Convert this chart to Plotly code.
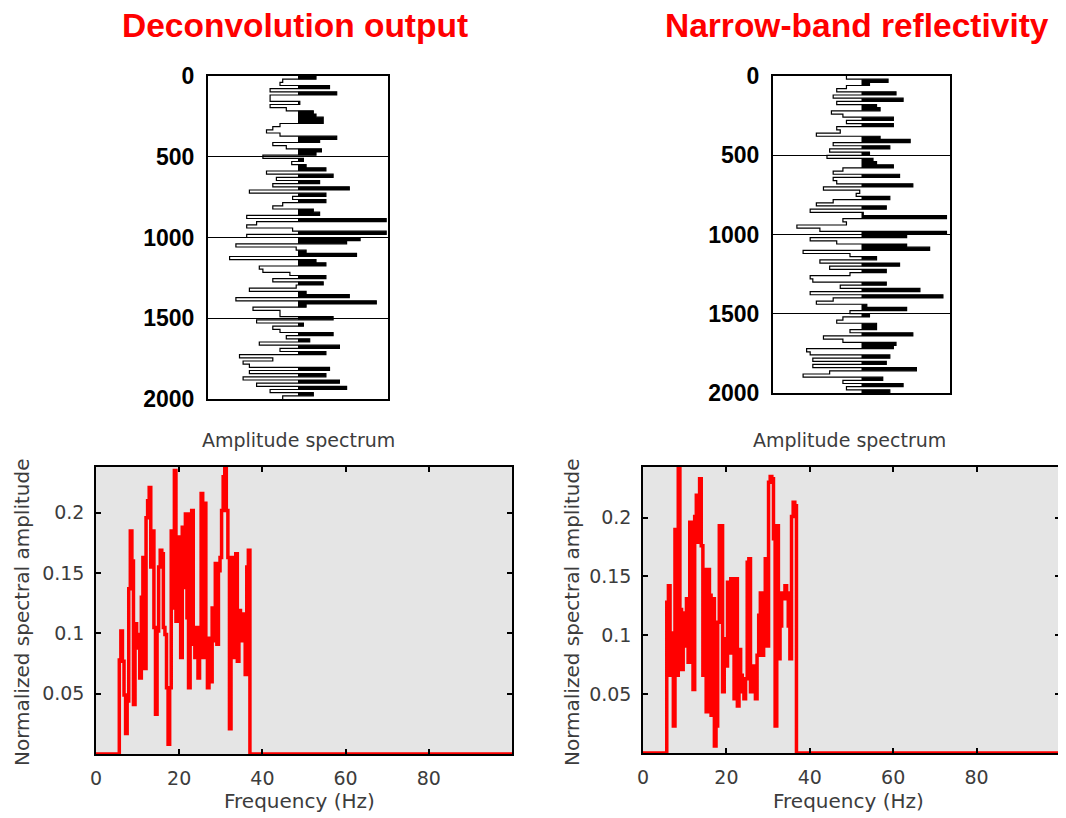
import numpy as np
import plotly.graph_objects as go

# ---------------- data ----------------
depth_max = 2000
depth_ticks = [0, 500, 1000, 1500, 2000]

decon_trace = [0.20, -0.17, -0.20, 0.35, -0.31, 0.43, -0.31, -0.31, 0.02, -0.31,
               -0.13, 0.17, 0.20, 0.28, 0.28, -0.20, -0.28, -0.35, -0.20, 0.43,
               0.24, -0.28, -0.13, 0.26, 0.20, -0.39, 0.06, -0.07, 0.09, 0.31,
               -0.35, 0.39, -0.24, 0.24, -0.28, 0.57, -0.54, 0.31, -0.06, 0.31,
               -0.17, -0.28, 0.17, 0.24, -0.57, 0.98, -0.46, -0.57, -0.06, 0.98,
               -0.57, 0.69, 0.54, -0.69, -0.02, 0.09, 0.65, -0.76, 0.20, 0.31,
               -0.43, -0.39, -0.09, 0.31, -0.28, 0.28, -0.02, -0.54, 0.09, 0.57,
               -0.69, 0.87, 0.09, -0.50, -0.20, -0.20, 0.39, -0.46, 0.06, -0.28,
               -0.20, 0.39, -0.13, 0.13, -0.43, 0.46, -0.20, 0.31, -0.65, -0.28,
               -0.61, -0.54, 0.35, -0.54, 0.31, -0.61, 0.46, -0.46, 0.54, -0.31,
               0.17, -0.17]

narrow_trace = [-0.17, 0.30, 0.09, -0.17, -0.28, 0.39, -0.32, 0.47, -0.28, 0.17,
                0.21, -0.34, -0.21, 0.36, -0.17, 0.36, -0.28, -0.24, -0.51, 0.21,
                0.55, -0.32, 0.32, -0.36, 0.09, -0.39, 0.13, 0.17, 0.36, -0.21,
                -0.32, 0.43, -0.32, -0.28, 0.58, -0.43, -0.02, -0.06, 0.32, -0.32,
                -0.51, 0.28, -0.58, 0.02, 0.96, -0.21, -0.17, -0.73, -0.47, 0.96,
                0.51, -0.58, -0.28, 0.51, 0.77, -0.66, -0.13, 0.17, -0.47, 0.43,
                -0.36, 0.28, -0.13, -0.58, -0.55, 0.28, -0.24, 0.66, -0.58, 0.92,
                -0.32, -0.51, 0.06, 0.51, -0.13, 0.09, -0.21, -0.28, 0.17, 0.17,
                -0.13, 0.58, -0.43, -0.21, 0.39, 0.36, -0.62, -0.58, 0.32, -0.55,
                0.28, -0.55, 0.62, -0.36, -0.66, 0.24, -0.21, 0.47, -0.17, 0.32]

freq_max = 100
freq_ticks = [0, 20, 40, 60, 80]
amp_ticks = [0.05, 0.1, 0.15, 0.2]
amp_labels = ["0.05", "0.1", "0.15", "0.2"]

decon_f0, decon_f1 = 5.6, 37.0
decon_spec = [0.078, 0.102, 0.077, 0.049, 0.017, 0.044, 0.137, 0.185, 0.160, 0.041,
              0.108, 0.099, 0.088, 0.063, 0.130, 0.163, 0.071, 0.196, 0.210, 0.221,
              0.155, 0.185, 0.105, 0.033, 0.102, 0.155, 0.169, 0.166, 0.105, 0.099,
              0.055, 0.008, 0.055, 0.185, 0.121, 0.235, 0.110, 0.180, 0.158, 0.080,
              0.188, 0.138, 0.199, 0.113, 0.055, 0.199, 0.202, 0.091, 0.080, 0.105,
              0.063, 0.094, 0.216, 0.080, 0.208, 0.080, 0.055, 0.096, 0.060, 0.121,
              0.094, 0.158, 0.091, 0.152, 0.163, 0.202, 0.230, 0.239, 0.202, 0.163,
              0.021, 0.105, 0.163, 0.080, 0.166, 0.077, 0.119, 0.094, 0.116, 0.094,
              0.066, 0.155, 0.169, 0.021]

narrow_f0, narrow_f1 = 5.7, 36.8
narrow_spec = [0.128, 0.142, 0.066, 0.102, 0.023, 0.190, 0.066, 0.244, 0.122, 0.071,
               0.119, 0.091, 0.131, 0.077, 0.196, 0.182, 0.054, 0.201, 0.219, 0.179,
               0.233, 0.176, 0.066, 0.156, 0.035, 0.156, 0.134, 0.032, 0.131, 0.006,
               0.023, 0.111, 0.193, 0.193, 0.052, 0.097, 0.074, 0.145, 0.085, 0.148,
               0.091, 0.046, 0.148, 0.040, 0.088, 0.066, 0.052, 0.046, 0.063, 0.162,
               0.165, 0.052, 0.074, 0.054, 0.046, 0.083, 0.117, 0.136, 0.083, 0.131,
               0.165, 0.091, 0.230, 0.235, 0.233, 0.182, 0.023, 0.193, 0.080, 0.108,
               0.136, 0.131, 0.142, 0.136, 0.108, 0.080, 0.201, 0.213, 0.210, 0.108]

# ---------------- layout helpers ----------------
OFF = 8  # default page margin of the browser body
WIN_W, WIN_H = 1066, 818
W, H = WIN_W - OFF, WIN_H - OFF
FONT_B = "Liberation Sans, Arial, sans-serif"
FONT_R = "DejaVu Sans, Verdana, sans-serif"
GREY_TXT = "#3c3c3c"


def xd(a, b):
    return [(a - OFF) / W, (b - OFF) / W]


def yd(top, bot):
    return [1 - (bot - OFF) / H, 1 - (top - OFF) / H]


fig = go.Figure()


def add_wiggle(vals, xa, ya):
    v = np.array(vals + [vals[-1]], dtype=float)
    n = len(vals)
    depth = np.append(np.arange(n) * depth_max / n, depth_max)
    pos = np.maximum(v, 0)
    fig.add_trace(go.Scatter(x=pos, y=depth, mode="lines",
                             line=dict(color="black", width=0, shape="vh"),
                             fill="tozerox", fillcolor="black",
                             xaxis=xa, yaxis=ya, hoverinfo="skip", showlegend=False))
    fig.add_trace(go.Scatter(x=v, y=depth, mode="lines",
                             line=dict(color="black", width=1.2, shape="vh"),
                             xaxis=xa, yaxis=ya, showlegend=False))


def add_spectrum(vals, f0, f1, xa, ya):
    n = len(vals)
    band = list(f0 + (f1 - f0) * np.arange(n) / (n - 1))
    fx = [0.0, f0] + band + [f1, freq_max]
    fy = [0.0, 0.0] + list(vals) + [0.0, 0.0]
    fig.add_trace(go.Scatter(x=fx, y=fy, mode="lines",
                             line=dict(color="#ff0000", width=3.5, shape="hv"),
                             xaxis=xa, yaxis=ya, showlegend=False))


add_wiggle(decon_trace, "x", "y")
add_wiggle(narrow_trace, "x2", "y2")
add_spectrum(decon_spec, decon_f0, decon_f1, "x3", "y3")
add_spectrum(narrow_spec, narrow_f0, narrow_f1, "x4", "y4")

trace_x = dict(range=[-1, 1], showticklabels=False, ticks="", showgrid=False,
               zeroline=False, showline=True, mirror=True, linecolor="black",
               linewidth=2, automargin=False)
trace_y = dict(range=[depth_max, 0], tickvals=depth_ticks, ticktext=[str(t) for t in depth_ticks],
               showgrid=True, gridcolor="black", gridwidth=1, zeroline=False,
               showline=True, mirror=True, linecolor="black", linewidth=2, ticks="",
               tickfont=dict(family=FONT_B, size=23, color="black", weight="bold"),
               ticklabelstandoff=7, automargin=False)

spec_x = dict(range=[0, freq_max], tickvals=freq_ticks, ticks="inside", ticklen=5,
              tickcolor="black", tickwidth=1.5, mirror="ticks", showline=True,
              linecolor="black", linewidth=1.5, showgrid=False, zeroline=False,
              tickfont=dict(family=FONT_R, size=19, color=GREY_TXT), ticklabelstandoff=6,
              automargin=False)
spec_y = dict(tickvals=amp_ticks, ticktext=amp_labels, ticks="inside", ticklen=5,
              tickcolor="black", tickwidth=1.5, mirror="ticks", showline=True,
              linecolor="black", linewidth=1.5, showgrid=False, zeroline=False,
              tickfont=dict(family=FONT_R, size=19, color=GREY_TXT), ticklabelstandoff=6,
              automargin=False)

fig.update_layout(
    width=W, height=H,
    margin=dict(l=0, r=0, t=0, b=0),
    paper_bgcolor="white", plot_bgcolor="white",
    showlegend=False,
    xaxis=dict(domain=xd(208, 388), anchor="y", **trace_x),
    yaxis=dict(domain=yd(76, 399), anchor="x", **trace_y),
    xaxis2=dict(domain=xd(773, 950), anchor="y2", **trace_x),
    yaxis2=dict(domain=yd(76, 393), anchor="x2", **trace_y),
    xaxis3=dict(domain=xd(96, 512), anchor="y3", **spec_x),
    yaxis3=dict(domain=yd(467, 754), anchor="x3", range=[0, 0.238], **spec_y),
    xaxis4=dict(domain=xd(643, 1060), anchor="y4", **spec_x),
    yaxis4=dict(domain=yd(467, 753), anchor="x4", range=[0, 0.243], **spec_y),
)

for xr, yr in [("x3", "y3"), ("x4", "y4")]:
    fig.add_shape(type="rect", xref=f"{xr} domain", yref=f"{yr} domain",
                  x0=0, x1=1, y0=0, y1=1, fillcolor="#e5e5e5",
                  line=dict(width=0), layer="below")

ann = []


def add_text(text, x, y, size, color, family, bold=False, angle=0):
    ann.append(dict(text=text, x=(x - OFF) / W, y=1 - (y - OFF) / H,
                    xref="paper", yref="paper",
                    xanchor="center", yanchor="middle", showarrow=False, textangle=angle,
                    font=dict(family=family, size=size, color=color,
                              weight="bold" if bold else "normal")))


add_text("Deconvolution output", 295, 25, 33.5, "#ff0000", FONT_B, bold=True)
add_text("Narrow-band reflectivity", 857, 25, 33.5, "#ff0000", FONT_B, bold=True)
add_text("Amplitude spectrum", 298, 440, 19, GREY_TXT, FONT_R)
add_text("Amplitude spectrum", 849, 440, 19, GREY_TXT, FONT_R)
add_text("Frequency (Hz)", 299, 801, 20, GREY_TXT, FONT_R)
add_text("Frequency (Hz)", 848, 801, 20, GREY_TXT, FONT_R)
add_text("Normalized spectral amplitude", 22, 612, 20, GREY_TXT, FONT_R, angle=-90)
add_text("Normalized spectral amplitude", 572, 612, 20, GREY_TXT, FONT_R, angle=-90)
fig.update_layout(annotations=ann)

fig.write_html("out.html")
